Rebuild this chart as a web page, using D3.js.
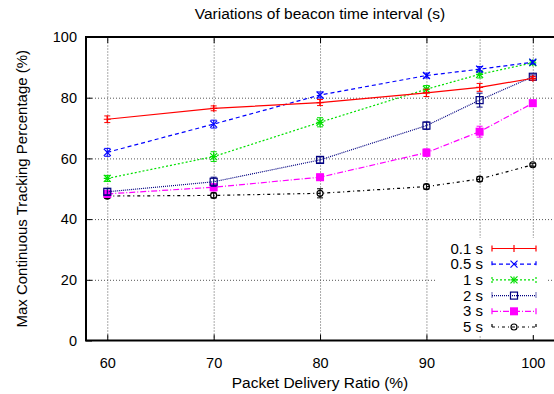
<!DOCTYPE html>
<html>
<head>
<meta charset="utf-8">
<script src="https://cdn.jsdelivr.net/npm/d3@7"></script>
<style>
  body { margin: 0; background: #fff; }
  svg text { font-family: "Liberation Sans", Arial, sans-serif; fill: #000; }
</style>
</head>
<body>
<div id="chart"></div>
<script>
// x categories (packet delivery ratio, %)
var pdr = [60, 70, 80, 90, 95, 100];
var yTicks = [0, 20, 40, 60, 80, 100];

// series values (max continuous tracking %) and error half-widths
var names = ["0.1 s", "0.5 s", "1 s", "2 s", "3 s", "5 s"];
var v01 = [72.9, 76.5, 78.4, 81.6, 83.4, 86.4];
var e01 = [1.1, 0.8, 1.0, 1.2, 1.3, 0.6];
var v05 = [62.0, 71.3, 80.9, 87.3, 89.4, 91.7];
var e05 = [1.3, 1.3, 1.0, 0.8, 0.9, 0.6];
var v1  = [53.4, 60.6, 71.9, 82.8, 87.7, 91.5];
var e1  = [1.0, 1.6, 1.5, 1.2, 1.2, 0.6];
var v2  = [49.0, 52.3, 59.5, 70.8, 79.2, 86.9];
var e2  = [1.0, 1.5, 1.0, 1.2, 2.3, 0.6];
var v3  = [48.3, 50.5, 53.8, 61.9, 68.8, 78.2];
var e3  = [1.0, 1.2, 1.0, 1.2, 1.8, 0.6];
var v5  = [47.6, 47.8, 48.5, 50.7, 53.2, 57.9];
var e5  = [0.8, 0.8, 1.5, 0.8, 0.8, 0.5];

var colors = ["#ff0000", "#0000ff", "#00e000", "#000080", "#ff00ff", "#000000"];
var dashes = ["none", "4,3", "2,2", "1,1", "6,2,1,2", "3,3,1,3"];
var marks  = ["plus", "cross", "star", "square", "filledSquare", "circle"];

var values = [v01, v05, v1, v2, v3, v5];
var errors = [e01, e05, e1, e2, e3, e5];

var width = 554, height = 394;
var svg = d3.select("#chart").append("svg")
    .attr("width", width)
    .attr("height", height);

var x = d3.scaleLinear().domain([58, 105]).range([86, 586]);
var y = d3.scaleLinear().domain([0, 100]).range([340.5, 37]);

// grid
svg.append("g")
   .attr("transform", "translate(0," + y(0) + ")")
   .call(d3.axisBottom(x).tickValues(pdr).tickSize(-(y(0) - y(100))).tickFormat(""))
   .call(function(g) {
     g.select(".domain").remove();
     g.selectAll(".tick line").attr("stroke", "#555").attr("stroke-dasharray", "1,2");
   });
svg.append("g")
   .attr("transform", "translate(" + x(58) + ",0)")
   .call(d3.axisLeft(y).tickValues(yTicks.slice(1, 5)).tickSize(-(width - x(58))).tickFormat(""))
   .call(function(g) {
     g.select(".domain").remove();
     g.selectAll(".tick line").attr("stroke", "#555").attr("stroke-dasharray", "1,2");
   });

// axes with inward ticks
var xTickVals = [60, 70, 80, 90, 100];
svg.append("g")
   .attr("transform", "translate(0," + y(0) + ")")
   .call(d3.axisBottom(x).tickValues(xTickVals).tickSize(-6).tickPadding(17))
   .call(function(g) {
     g.select(".domain").remove();
     g.selectAll(".tick line").attr("stroke", "#000");
     g.selectAll(".tick text").attr("font-size", 14.5);
   });
svg.append("g")
   .attr("transform", "translate(0," + y(100) + ")")
   .call(d3.axisTop(x).tickValues(xTickVals).tickSize(-6).tickFormat(""))
   .call(function(g) {
     g.select(".domain").remove();
     g.selectAll(".tick line").attr("stroke", "#000");
   });
svg.append("g")
   .attr("transform", "translate(" + x(58) + ",0)")
   .call(d3.axisLeft(y).tickValues(yTicks).tickSize(-6).tickPadding(9))
   .call(function(g) {
     g.select(".domain").remove();
     g.selectAll(".tick line").attr("stroke", "#000");
     g.selectAll(".tick text").attr("font-size", 14.5);
   });

// frame
svg.append("path")
   .attr("d", "M" + width + "," + y(100) + "H" + x(58) + "V" + y(0) + "H" + width)
   .attr("fill", "none")
   .attr("stroke", "#000")
   .attr("stroke-width", 2);

function drawMarker(g, type, cx, cy, color) {
  var s = 3.5;
  if (type == "plus" || type == "star") {
    g.append("path").attr("d", "M" + (cx - s) + "," + cy + "H" + (cx + s) + "M" + cx + "," + (cy - s) + "V" + (cy + s))
     .attr("stroke", color).attr("stroke-width", 1.2);
  }
  if (type == "cross" || type == "star") {
    g.append("path").attr("d", "M" + (cx - s) + "," + (cy - s) + "L" + (cx + s) + "," + (cy + s) + "M" + (cx - s) + "," + (cy + s) + "L" + (cx + s) + "," + (cy - s))
     .attr("stroke", color).attr("stroke-width", 1.2);
  }
  if (type == "square") {
    g.append("rect").attr("x", cx - s).attr("y", cy - s).attr("width", 2 * s).attr("height", 2 * s)
     .attr("fill", "none").attr("stroke", color).attr("stroke-width", 1.2);
  }
  if (type == "filledSquare") {
    g.append("rect").attr("x", cx - s - 0.5).attr("y", cy - s - 0.5).attr("width", 2 * s + 1).attr("height", 2 * s + 1)
     .attr("fill", color);
  }
  if (type == "circle") {
    g.append("circle").attr("cx", cx).attr("cy", cy).attr("r", s - 0.5)
     .attr("fill", "none").attr("stroke", color).attr("stroke-width", 1.2);
  }
}

var line = d3.line()
    .x(function(d) { return x(d[0]); })
    .y(function(d) { return y(d[1]); });

// series
for (var i = values.length - 1; i >= 0; i--) {
  var g = svg.append("g");
  var pts = pdr.map(function(p, j) { return [p, values[i][j]]; });
  g.append("path")
   .attr("d", line(pts))
   .attr("fill", "none")
   .attr("stroke", colors[i])
   .attr("stroke-width", 1.2)
   .attr("stroke-dasharray", dashes[i]);
  for (var j = 0; j < pdr.length; j++) {
    var cx = x(pdr[j]);
    var lo = y(values[i][j] - errors[i][j]), hi = y(values[i][j] + errors[i][j]);
    g.append("path")
     .attr("d", "M" + cx + "," + lo + "V" + hi + "M" + (cx - 3) + "," + lo + "H" + (cx + 3) + "M" + (cx - 3) + "," + hi + "H" + (cx + 3))
     .attr("stroke", colors[i]).attr("fill", "none").attr("stroke-width", 1);
    drawMarker(g, marks[i], cx, y(values[i][j]), colors[i]);
  }
}

// legend
var legend = svg.append("g");
legend.append("rect")
      .attr("x", 435).attr("y", 238).attr("width", 111).attr("height", 97)
      .attr("fill", "#fff");
names.forEach(function(n, i) {
  var ly = 248.5 + i * 15.7;
  legend.append("text")
        .attr("x", 483).attr("y", ly + 5)
        .attr("text-anchor", "end")
        .attr("font-size", 15)
        .text(n);
  legend.append("path")
        .attr("d", "M492," + ly + "H536M492," + (ly - 3) + "V" + (ly + 3) + "M536," + (ly - 3) + "V" + (ly + 3))
        .attr("stroke", colors[i]).attr("fill", "none").attr("stroke-width", 1.2)
        .attr("stroke-dasharray", dashes[i]);
  drawMarker(legend, marks[i], 514, ly, colors[i]);
});

// titles
svg.append("text")
   .attr("x", 320).attr("y", 19)
   .attr("text-anchor", "middle")
   .attr("font-size", 15.5)
   .text("Variations of beacon time interval (s)");
svg.append("text")
   .attr("x", 320).attr("y", 388)
   .attr("text-anchor", "middle")
   .attr("font-size", 15.5)
   .text("Packet Delivery Ratio (%)");
svg.append("text")
   .attr("transform", "translate(27," + ((y(0) + y(100)) / 2) + ") rotate(-90)")
   .attr("text-anchor", "middle")
   .attr("font-size", 15)
   .text("Max Continuous Tracking Percentage (%)");
</script>
</body>
</html>
